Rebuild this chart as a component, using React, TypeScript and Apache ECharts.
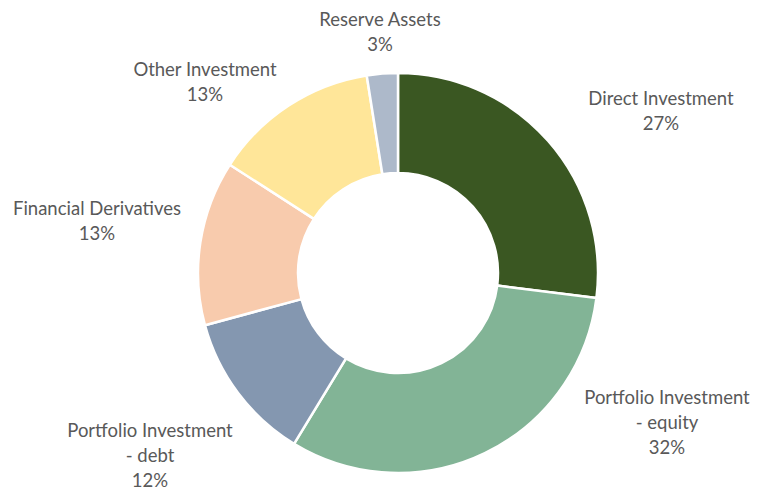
import React, { useEffect, useRef } from "react";
import * as echarts from "echarts";

const categories = [
  "Direct Investment",
  "Portfolio Investment\n- equity",
  "Portfolio Investment\n- debt",
  "Financial Derivatives",
  "Other Investment",
  "Reserve Assets",
];
const shares = [27.0, 31.7, 12.1, 13.3, 13.4, 2.5];
const colors = ["#3A5722", "#82B496", "#8497B0", "#F8CBAD", "#FFE699", "#ADB9CA"];

// label block centres (px) chosen to mirror the reference's best-fit placement
const labelCentres: [number, number][] = [
  [661, 110],
  [667, 422],
  [150, 455],
  [97, 220],
  [205, 81],
  [380, 31],
];

export default function App() {
  const ref = useRef<HTMLDivElement>(null);
  useEffect(() => {
    if (!ref.current) return;
    const chart = echarts.init(ref.current, undefined, { renderer: "svg" });
    chart.setOption({
      animation: false,
      backgroundColor: "#ffffff",
      series: [
        {
          type: "pie",
          center: [398, 273],
          radius: [100, 200],
          startAngle: 90,
          clockwise: true,
          avoidLabelOverlap: false,
          itemStyle: { borderColor: "#ffffff", borderWidth: 2.5 },
          label: {
            show: true,
            position: "outside",
            color: "#595959",
            fontFamily: "Lato",
            fontSize: 18.5,
            lineHeight: 25,
            align: "center",
            formatter: (p: any) => `${p.name}\n${Math.round(p.percent)}%`,
          },
          labelLine: { show: false },
          labelLayout: (p: any) => {
            const c = labelCentres[p.dataIndex];
            return { x: c[0], y: c[1], align: "center", verticalAlign: "middle" };
          },
          emphasis: { disabled: true },
          data: categories.map((name, i) => ({
            name,
            value: shares[i],
            itemStyle: { color: colors[i] },
          })),
        },
      ],
    });
    return () => chart.dispose();
  }, []);
  return (
    <div
      ref={ref}
      style={{ position: "fixed", left: 0, top: 0, width: 758, height: 491 }}
    />
  );
}
